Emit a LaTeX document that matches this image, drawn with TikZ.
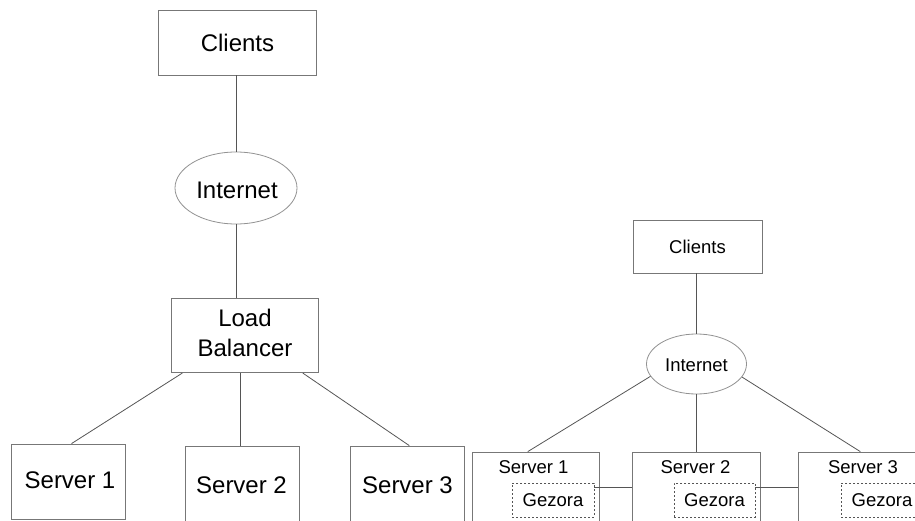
\documentclass[tikz,border=0pt]{standalone}
\usepackage{fontspec}
\setmainfont{Liberation Sans}
\usetikzlibrary{shapes.geometric,calc}
\definecolor{edge}{HTML}{555555}
\definecolor{rim}{HTML}{777777}
\tikzset{
  bigtxt/.style={font=\fontsize{24}{30}\selectfont},
  smtxt/.style={font=\fontsize{18.5}{22}\selectfont},
  boxnode/.style={draw=rim, line width=0.8pt, rectangle, inner sep=0pt, fill=white},
  ellnode/.style={draw=rim!80, line width=0.8pt, ellipse, inner sep=0pt, fill=white},
  txtnode/.style={inner sep=0pt},
  gezbox/.style={draw=edge, line width=0.7pt, dash pattern=on 2pt off 2pt, rectangle, inner sep=0pt},
  conn/.style={draw=edge, line width=0.8pt},
}
\begin{document}
\begin{tikzpicture}[x=1pt,y=-1pt]
\useasboundingbox (0,0) rectangle (915,521);
\clip (0,0) rectangle (915,521);
% ---------------- left diagram ----------------
\node[boxnode, bigtxt, minimum width=158.4pt, minimum height=65pt] (cl) at (237.5,42.5) {Clients};
\node[ellnode, bigtxt, minimum width=122pt, minimum height=72pt] (inet) at (236,188) {};
\node[txtnode, bigtxt] (inett) at (237,190.5) {Internet};
\node[boxnode, minimum width=146.3pt, minimum height=74.7pt] (lb) at (244.9,335.3) {};
\node[txtnode, bigtxt, align=center] (lbt) at (245,333) {Load\\Balancer};
\node[boxnode, minimum width=113.6pt, minimum height=75pt] (s1) at (68.5,481.5) {};
\node[boxnode, minimum width=114pt, minimum height=150pt] (s2) at (242,521) {};
\node[boxnode, minimum width=113.3pt, minimum height=150pt] (s3) at (407.3,521) {};
\node[txtnode, bigtxt] (s1t) at (70,480.5) {Server 1};
\node[txtnode, bigtxt] (s2t) at (241.5,485) {Server 2};
\node[txtnode, bigtxt] (s3t) at (407.5,485) {Server 3};
\draw[conn] (inet.north) -- (inet.north |- cl.south);
\draw[conn] (inet.south) -- (inet.south |- lb.north);
\draw[conn] ([xshift=11pt]lb.south west) -- ([xshift=3pt]s1.north);
\draw[conn] ([xshift=-5pt]lb.south) -- ([xshift=-5pt]lb.south |- s2.north);
\draw[conn] ([xshift=-15.7pt]lb.south east) -- ([xshift=2pt]s3.north);
% ---------------- right diagram ----------------
\node[boxnode, smtxt, minimum width=129pt, minimum height=53pt] (rcl) at (697.5,246.5) {Clients};
\node[ellnode, minimum width=100pt, minimum height=60pt] (rinet) at (696.5,364) {};
\node[txtnode, smtxt] (rinett) at (696.5,365) {Internet};
\node[boxnode, minimum width=127pt, minimum height=150pt] (r1) at (535.8,527) {};
\node[boxnode, minimum width=127.3pt, minimum height=150pt] (r2) at (696.4,527) {};
\node[boxnode, minimum width=130pt, minimum height=150pt] (r3) at (863.3,527) {};
\node[txtnode, smtxt] (r1t) at (533.5,467) {Server 1};
\node[txtnode, smtxt] (r2t) at (695.5,467) {Server 2};
\node[txtnode, smtxt] (r3t) at (863,467) {Server 3};
\node[gezbox, smtxt, minimum width=82pt, minimum height=34pt] (g1) at (553,500) {Gezora};
\node[gezbox, smtxt, minimum width=81pt, minimum height=34pt] (g2) at (714.5,500) {Gezora};
\node[gezbox, smtxt, minimum width=82pt, minimum height=34pt] (g3) at (882,500) {Gezora};
\draw[conn] (rinet.north) -- (rinet.north |- rcl.south);
\draw[conn] (rinet.195.6) -- ([xshift=-8pt]r1.north);
\draw[conn] (rinet.south) -- (rinet.south |- r2.north);
\draw[conn] (rinet.344.4) -- ([xshift=-3pt]r3.north);
\coordinate (ga) at ([yshift=-4.5pt]g1.north east);
\coordinate (gb) at ([yshift=-4.5pt]g2.north east);
\draw[conn] (ga) -- (ga -| r2.west);
\draw[conn] (gb) -- (gb -| r3.west);
\end{tikzpicture}
\end{document}
